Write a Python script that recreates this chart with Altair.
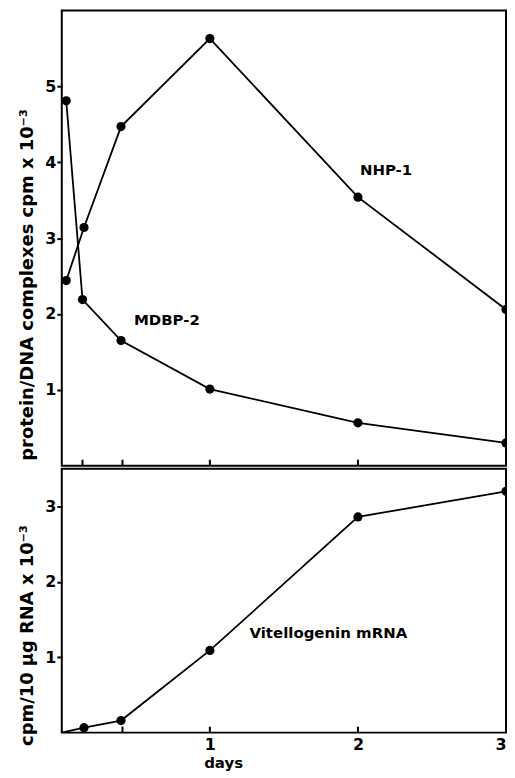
import altair as alt
import pandas as pd

# ---- data ----
nhp_days = [0.03, 0.15, 0.4, 1, 2, 3]
nhp1 = [2.44, 3.14, 4.47, 5.63, 3.54, 2.06]
mdbp_days = [0.03, 0.14, 0.4, 1, 2, 3]
mdbp2 = [4.81, 2.19, 1.65, 1.01, 0.565, 0.30]
vit_days = [0, 0.15, 0.4, 1, 2, 3]
vit = [0, 0.066, 0.16, 1.09, 2.86, 3.20]

tick_days = [0.14, 0.41, 1, 2]
x_labels = [1, 2, 3]
top_ticks = [1, 2, 3, 4, 5]
bottom_ticks = [1, 2, 3]

top_labels = ["NHP-1", "MDBP-2"]
top_label_days = [2.19, 0.71]
top_label_vals = [3.9, 1.92]
bottom_labels = ["Vitellogenin mRNA"]
bottom_label_days = [1.80]
bottom_label_vals = [1.32]

FONT = "DejaVu Sans"
W = 446
H_TOP = 457
H_BOT = 265

top_df = pd.DataFrame({
    "series": ["NHP-1"] * len(nhp_days) + ["MDBP-2"] * len(mdbp_days),
    "day": nhp_days + mdbp_days,
    "value": nhp1 + mdbp2,
})
bot_df = pd.DataFrame({"series": ["Vitellogenin"] * len(vit_days), "day": vit_days, "value": vit})
tick_df = pd.DataFrame({"day": tick_days})
top_lbl_df = pd.DataFrame({"label": top_labels, "day": top_label_days, "value": top_label_vals})
bot_lbl_df = pd.DataFrame({"label": bottom_labels, "day": bottom_label_days, "value": bottom_label_vals})

xs = alt.Scale(domain=[0, 3], nice=False, zero=False)
ys_top = alt.Scale(domain=[0, 6], nice=False)
ys_bot = alt.Scale(domain=[0, 3.5], nice=False)

yaxis_common = dict(
    format="d",
    tickSize=5, tickWidth=2, tickColor="black", domain=False,
    labelFont=FONT, labelFontSize=16, labelFontWeight="bold", labelColor="black",
    labelPadding=1, grid=False,
    titleFont=FONT, titleFontSize=18, titleFontWeight="bold", titleColor="black",
    titlePadding=8,
)

# ---- top panel ----
top_y_axis = alt.Axis(values=top_ticks, title="protein/DNA complexes  cpm x 10⁻³", titleY=275, **yaxis_common)
top_base = alt.Chart(top_df)
top_line = top_base.mark_line(color="black", strokeWidth=1.8, clip=True).encode(
    x=alt.X("day:Q", scale=xs, axis=None),
    y=alt.Y("value:Q", scale=ys_top, axis=top_y_axis),
    detail="series:N",
)
top_pts = top_base.mark_circle(color="black", size=85, opacity=1, clip=True).encode(
    x=alt.X("day:Q", scale=xs, axis=None),
    y=alt.Y("value:Q", scale=ys_top),
)
top_txt = alt.Chart(top_lbl_df).mark_text(font=FONT, fontSize=15, fontWeight="bold", color="black").encode(
    x=alt.X("day:Q", scale=xs, axis=None),
    y=alt.Y("value:Q", scale=ys_top),
    text="label:N",
)
top_tk = alt.Chart(tick_df).mark_rule(color="black", strokeWidth=2).encode(
    x=alt.X("day:Q", scale=xs, axis=None),
    y=alt.value(H_TOP),
    y2=alt.value(H_TOP - 6),
)
top = alt.layer(top_line, top_pts, top_txt, top_tk).properties(width=W, height=H_TOP)

# ---- bottom panel ----
bot_y_axis = alt.Axis(values=bottom_ticks, title="cpm/10 μg RNA x 10⁻³", titleY=167, **yaxis_common)
bot_x_axis = alt.Axis(
    values=x_labels, format="d", title="days", ticks=False, domain=False, grid=False,
    labelFont=FONT, labelFontSize=16, labelFontWeight="bold", labelColor="black", labelPadding=4,
    labelFlush=True,
    titleFont=FONT, titleFontSize=15, titleFontWeight="bold", titleColor="black",
    titleX=162, titlePadding=3,
)
bot_base = alt.Chart(bot_df)
bot_line = bot_base.mark_line(color="black", strokeWidth=1.8, clip=True).encode(
    x=alt.X("day:Q", scale=xs, axis=bot_x_axis),
    y=alt.Y("value:Q", scale=ys_bot, axis=bot_y_axis),
)
bot_pts = bot_base.transform_filter("datum.day > 0").mark_circle(
    color="black", size=85, opacity=1, clip=True
).encode(
    x=alt.X("day:Q", scale=xs),
    y=alt.Y("value:Q", scale=ys_bot),
)
bot_txt = alt.Chart(bot_lbl_df).mark_text(font=FONT, fontSize=15, fontWeight="bold", color="black").encode(
    x=alt.X("day:Q", scale=xs),
    y=alt.Y("value:Q", scale=ys_bot),
    text="label:N",
)
bot_tk = alt.Chart(tick_df).mark_rule(color="black", strokeWidth=2).encode(
    x=alt.X("day:Q", scale=xs),
    y=alt.value(H_BOT),
    y2=alt.value(H_BOT - 6),
)
bottom = alt.layer(bot_line, bot_pts, bot_txt, bot_tk).properties(width=W, height=H_BOT)

chart = alt.vconcat(top, bottom, spacing=0).properties(
    padding={"left": 9, "top": 0, "right": 0, "bottom": 0}
).configure_view(stroke="black", strokeWidth=2)

chart.save("out.html", embed_options={"renderer": "svg", "actions": False})
